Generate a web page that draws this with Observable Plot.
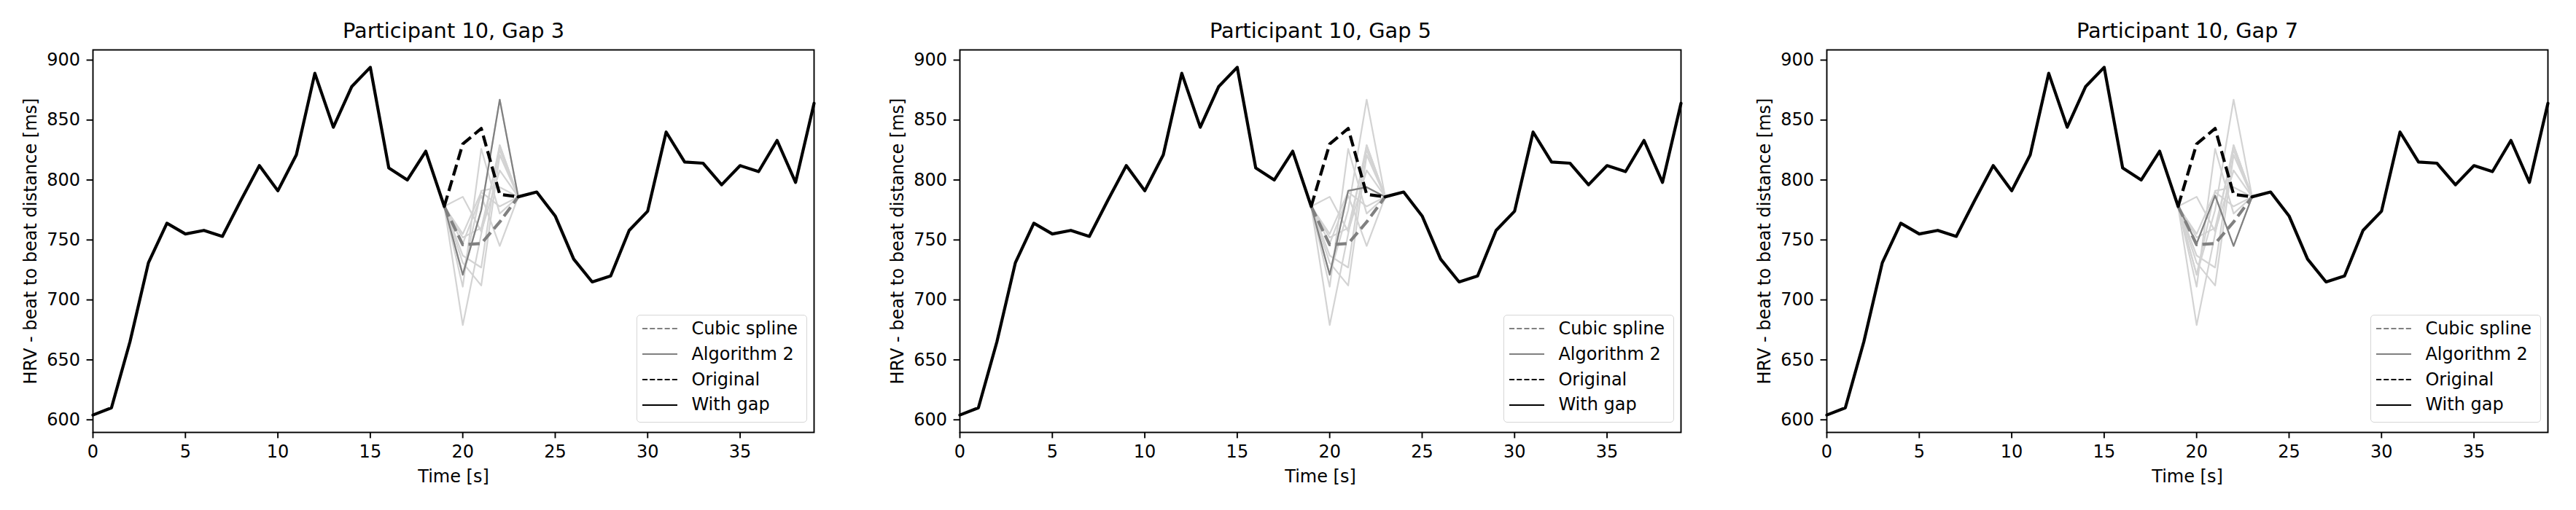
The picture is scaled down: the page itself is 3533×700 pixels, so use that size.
<!DOCTYPE html>
<html>
<head>
<meta charset="utf-8">
<script src="https://cdn.jsdelivr.net/npm/d3@7"></script>
<script src="https://cdn.jsdelivr.net/npm/@observablehq/plot@0.6"></script>
<style>
  html, body { margin: 0; padding: 0; background: #fff; overflow: hidden; }
  #wrap { position: relative; width: 3533px; height: 700px; display: flex; }
  .panel { position: relative; flex: none; }
  .panel svg { display: block; }
  .legend {
    position: absolute; box-sizing: border-box;
    left: 872.7px; top: 431.7px; width: 234px; height: 148.3px;
    border: 1.9px solid #d6d6d6; border-radius: 5px;
    background: rgba(255,255,255,0.8);
    font-family: "DejaVu Sans", sans-serif; font-size: 24px; color: #000;
    padding-top: 1.3px;
  }
  .legend .row { display: flex; align-items: center; height: 34.8px; line-height: 34.8px; white-space: nowrap; }
  .legend svg { margin-left: 7px; margin-right: 19.4px; flex: none; }
</style>
</head>
<body>
<div id="wrap"></div>
<script>
// ---- data ----
const times = [0,1,2,3,4,5,6,7,8,9,10,11,12,13,14,15,16,17,18,19,20,21,22,23,24,25,26,27,28,29,30,31,32,33,34,35,36,37,38,39];
const withGap = [604,610,665,731,764,755,758,753,783,812,791,821,889,844,878,894,810,800,824,778,null,null,null,786,790,770,734,715,720,758,774,840,815,814,796,812,807,833,798,864];
const gapTimes = [19,20,21,22,23];
const original = [778,830,843,788,786];
const cubicSpline = [778,746,747,765,786];
const algorithm2Gap3 = [778,721,775,867,786];
const algorithm2Gap5 = [778,721,791,794,786];
const algorithm2Gap7 = [778,747,787,745,786];
const candidate1 = [778,721,775,867,786];
const candidate2 = [778,721,791,794,786];
const candidate3 = [778,747,787,745,786];
const candidate4 = [778,679,755,829,786];
const candidate5 = [778,711,826,772,786];
const candidate6 = [778,786,757,808,786];
const candidate7 = [778,731,712,821,786];
const candidate8 = [778,737,727,829,786];
const candidate9 = [778,755,790,778,786];
const candidate10 = [778,752,760,825,786];
const gapSizes = [3,5,7];
const xTicks = [0,5,10,15,20,25,30,35];
const yTicks = [600,650,700,750,800,850,900];
const legendLabels = ["Cubic spline","Algorithm 2","Original","With gap"];

const candidates = [candidate1,candidate2,candidate3,candidate4,candidate5,candidate6,candidate7,candidate8,candidate9,candidate10];
const algorithms = [algorithm2Gap3, algorithm2Gap5, algorithm2Gap7];

const mainData = times.map((t, i) => ({t, v: withGap[i]}));
const gapRows = arr => gapTimes.map((t, i) => ({t, v: arr[i]}));
const candData = candidates.flatMap((c, k) => gapTimes.map((t, i) => ({t, v: c[i], k})));

const DASH = "15.4,6.7";

function makePanel(gap, algo, width, marginRight) {
  return Plot.plot({
    width, height: 700,
    marginLeft: 127, marginRight, marginTop: 68, marginBottom: 107,
    style: {fontFamily: "'DejaVu Sans', sans-serif", fontSize: "24px", background: "white", color: "black", overflow: "visible"},
    x: {domain: [0, 39]},
    y: {domain: [589.5, 908.5]},
    marks: [
      Plot.line(candData, {x: "t", y: "v", z: "k", stroke: "#d3d3d3", strokeWidth: 2.2}),
      Plot.line(gapRows(algo), {x: "t", y: "v", stroke: "#808080", strokeWidth: 2.2}),
      Plot.line(gapRows(cubicSpline), {x: "t", y: "v", stroke: "#808080", strokeWidth: 4.2, strokeDasharray: DASH, strokeLinecap: "butt"}),
      Plot.line(gapRows(original), {x: "t", y: "v", stroke: "black", strokeWidth: 4.2, strokeDasharray: DASH, strokeLinecap: "butt"}),
      Plot.line(mainData, {x: "t", y: "v", stroke: "black", strokeWidth: 4.2}),
      Plot.frame({stroke: "black", strokeWidth: 1.9}),
      Plot.axisX({ticks: xTicks, tickSize: 8.4, tickPadding: 9.5, strokeWidth: 1.9, fontSize: 24,
        tickFormat: d => String(d), label: "Time [s]", labelAnchor: "center", labelOffset: 68, labelArrow: "none"}),
      Plot.axisY({ticks: yTicks, tickSize: 8.4, tickPadding: 9, strokeWidth: 1.9, fontSize: 24,
        tickFormat: d => String(d), label: "HRV - beat to beat distance [ms]", labelAnchor: "center", labelOffset: 95, labelArrow: "none"}),
      Plot.text([`Participant 10, Gap ${gap}`], {text: d => d, frameAnchor: "top", dy: -17, lineAnchor: "bottom", fontSize: 28.8})
    ]
  });
}

function makeLegend() {
  const styles = [
    {stroke: "#808080", dash: "7.1,3.1"},
    {stroke: "#808080", dash: null},
    {stroke: "#000000", dash: "7.1,3.1"},
    {stroke: "#000000", dash: null}
  ];
  const box = document.createElement("div");
  box.className = "legend";
  legendLabels.forEach((label, i) => {
    const row = document.createElement("div");
    row.className = "row";
    const ns = "http://www.w3.org/2000/svg";
    const s = document.createElementNS(ns, "svg");
    s.setAttribute("width", "48.3"); s.setAttribute("height", "6");
    const ln = document.createElementNS(ns, "line");
    ln.setAttribute("x1", "0"); ln.setAttribute("x2", "48.3");
    ln.setAttribute("y1", "3"); ln.setAttribute("y2", "3");
    ln.setAttribute("stroke", styles[i].stroke);
    ln.setAttribute("stroke-width", "1.9");
    if (styles[i].dash) ln.setAttribute("stroke-dasharray", styles[i].dash);
    s.appendChild(ln);
    const span = document.createElement("span");
    span.textContent = label;
    row.appendChild(s); row.appendChild(span);
    box.appendChild(row);
  });
  return box;
}

const wrap = document.getElementById("wrap");
const widths = [1189, 1189, 1155];
const rights = [73, 73, 39];
gapSizes.forEach((g, i) => {
  const div = document.createElement("div");
  div.className = "panel";
  div.style.width = widths[i] + "px";
  div.appendChild(makePanel(g, algorithms[i], widths[i], rights[i]));
  div.appendChild(makeLegend());
  wrap.appendChild(div);
});
</script>
</body>
</html>
